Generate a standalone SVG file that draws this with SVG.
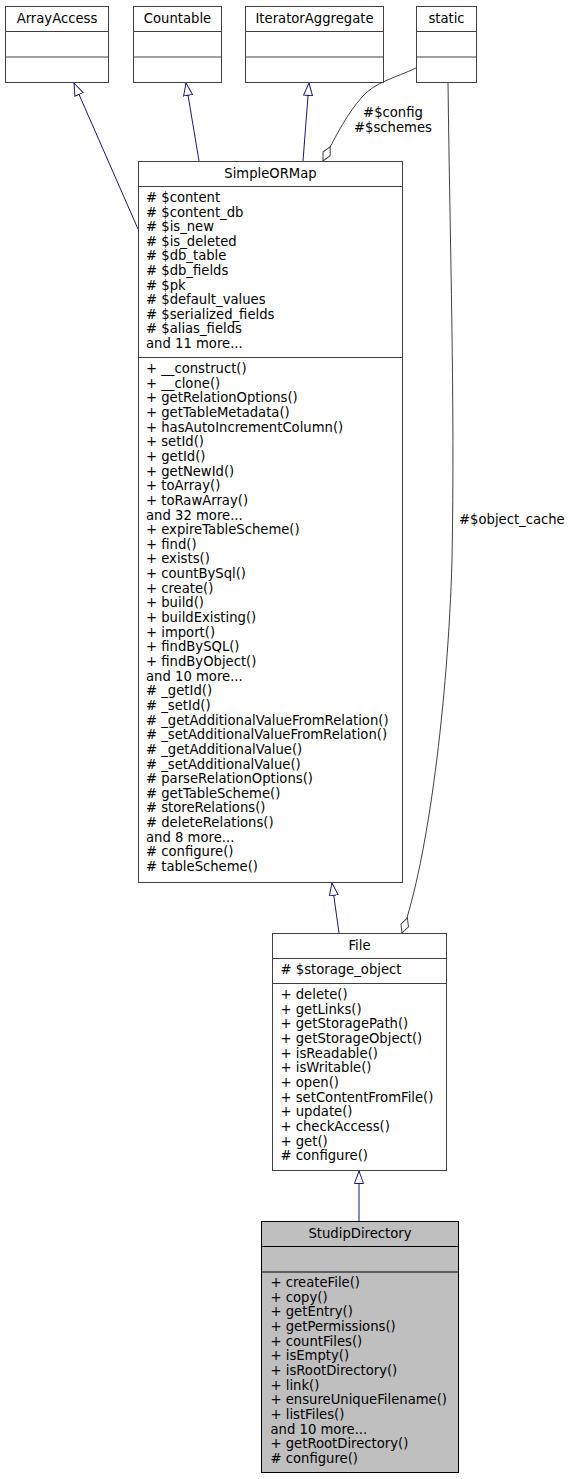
<svg xmlns="http://www.w3.org/2000/svg" width="569" height="1479" viewBox="0 0 569 1479">
<style>
  .box { fill: #ffffff; stroke: #404040; stroke-width: 1; }
  .focus { fill: #bfbfbf; stroke: #000000; stroke-width: 1; }
  .sep { stroke: #404040; stroke-width: 1; }
  .focus-sep { stroke: #000000; stroke-width: 1; }
  text { font-family: "DejaVu Sans", "Liberation Sans", sans-serif; font-size: 13.2px; fill: #000000; }
  .title { text-anchor: middle; }
  .inh { fill: none; stroke: #191970; stroke-width: 1; marker-end: url(#tri); }
  .use { fill: none; stroke: #404040; stroke-width: 1; marker-end: url(#dia); }
</style>
<defs>
  <marker id="tri" viewBox="0 0 13 10" refX="13" refY="5" markerWidth="13" markerHeight="10" markerUnits="userSpaceOnUse" orient="auto">
    <path d="M0.5,0.5 L13,5 L0.5,9.5 Z" fill="#ffffff" stroke="#191970" stroke-width="1"/>
  </marker>
  <marker id="dia" viewBox="0 0 17 10" refX="16.5" refY="5" markerWidth="17" markerHeight="10" markerUnits="userSpaceOnUse" orient="auto">
    <path d="M0.5,5 L8.5,1 L16.5,5 L8.5,9 Z" fill="#ffffff" stroke="#404040" stroke-width="1"/>
  </marker>
</defs>
<rect width="569" height="1479" fill="#ffffff"/>

<g id="connectors">
  <path class="inh" d="M138,229 L74,83"/>
  <path class="inh" d="M199,161 L186,83"/>
  <path class="inh" d="M303,161 L309,83"/>
  <path class="inh" d="M339,933 L332,883"/>
  <path class="inh" d="M359,1221 L359,1171"/>
  <path class="use" d="M416,68 C395,78 375,82 362,97 C348,113 337,133 323,161"/>
  <path class="use" d="M448,82 C450,250 455,400 452,560 C448,700 428,860 402,933"/>
  <text x="393" y="117" text-anchor="middle">#$config</text>
  <text x="393" y="132" text-anchor="middle">#$schemes</text>
  <text x="459" y="524">#$object_cache</text>
</g>

<g id="ArrayAccess">
  <rect class="box" x="5.5" y="6.5" width="103" height="76"/>
  <line class="sep" x1="5.5" y1="31.5" x2="108.5" y2="31.5"/>
  <line class="sep" x1="5.5" y1="57" x2="108.5" y2="57"/>
  <text class="title" x="57" y="22.5">ArrayAccess</text>
</g>

<g id="Countable">
  <rect class="box" x="133.5" y="6.5" width="88" height="76"/>
  <line class="sep" x1="133.5" y1="31.5" x2="221.5" y2="31.5"/>
  <line class="sep" x1="133.5" y1="57" x2="221.5" y2="57"/>
  <text class="title" x="177.5" y="22.5">Countable</text>
</g>

<g id="IteratorAggregate">
  <rect class="box" x="245.5" y="6.5" width="138" height="76"/>
  <line class="sep" x1="245.5" y1="31.5" x2="383.5" y2="31.5"/>
  <line class="sep" x1="245.5" y1="57" x2="383.5" y2="57"/>
  <text class="title" x="314.5" y="22.5">IteratorAggregate</text>
</g>

<g id="static">
  <rect class="box" x="416.5" y="6.5" width="60" height="76"/>
  <line class="sep" x1="416.5" y1="31.5" x2="476.5" y2="31.5"/>
  <line class="sep" x1="416.5" y1="57" x2="476.5" y2="57"/>
  <text class="title" x="446.5" y="22.5">static</text>
</g>

<g id="SimpleORMap">
  <rect class="box" x="138.5" y="161.5" width="264" height="721"/>
  <line class="sep" x1="138.5" y1="186.5" x2="402.5" y2="186.5"/>
  <line class="sep" x1="138.5" y1="357.5" x2="402.5" y2="357.5"/>
  <text class="title" x="270.5" y="178">SimpleORMap</text>
  <text x="146">
    <tspan x="146" y="202"># $content</tspan>
    <tspan x="146" dy="14.6"># $content_db</tspan>
    <tspan x="146" dy="14.6"># $is_new</tspan>
    <tspan x="146" dy="14.6"># $is_deleted</tspan>
    <tspan x="146" dy="14.6"># $db_table</tspan>
    <tspan x="146" dy="14.6"># $db_fields</tspan>
    <tspan x="146" dy="14.6"># $pk</tspan>
    <tspan x="146" dy="14.6"># $default_values</tspan>
    <tspan x="146" dy="14.6"># $serialized_fields</tspan>
    <tspan x="146" dy="14.6"># $alias_fields</tspan>
    <tspan x="146" dy="14.6">and 11 more...</tspan>
  </text>
  <text x="146">
    <tspan x="146" y="373">+ __construct()</tspan>
    <tspan x="146" dy="14.65">+ __clone()</tspan>
    <tspan x="146" dy="14.65">+ getRelationOptions()</tspan>
    <tspan x="146" dy="14.65">+ getTableMetadata()</tspan>
    <tspan x="146" dy="14.65">+ hasAutoIncrementColumn()</tspan>
    <tspan x="146" dy="14.65">+ setId()</tspan>
    <tspan x="146" dy="14.65">+ getId()</tspan>
    <tspan x="146" dy="14.65">+ getNewId()</tspan>
    <tspan x="146" dy="14.65">+ toArray()</tspan>
    <tspan x="146" dy="14.65">+ toRawArray()</tspan>
    <tspan x="146" dy="14.65">and 32 more...</tspan>
    <tspan x="146" dy="14.65">+ expireTableScheme()</tspan>
    <tspan x="146" dy="14.65">+ find()</tspan>
    <tspan x="146" dy="14.65">+ exists()</tspan>
    <tspan x="146" dy="14.65">+ countBySql()</tspan>
    <tspan x="146" dy="14.65">+ create()</tspan>
    <tspan x="146" dy="14.65">+ build()</tspan>
    <tspan x="146" dy="14.65">+ buildExisting()</tspan>
    <tspan x="146" dy="14.65">+ import()</tspan>
    <tspan x="146" dy="14.65">+ findBySQL()</tspan>
    <tspan x="146" dy="14.65">+ findByObject()</tspan>
    <tspan x="146" dy="14.65">and 10 more...</tspan>
    <tspan x="146" dy="14.65"># _getId()</tspan>
    <tspan x="146" dy="14.65"># _setId()</tspan>
    <tspan x="146" dy="14.65"># _getAdditionalValueFromRelation()</tspan>
    <tspan x="146" dy="14.65"># _setAdditionalValueFromRelation()</tspan>
    <tspan x="146" dy="14.65"># _getAdditionalValue()</tspan>
    <tspan x="146" dy="14.65"># _setAdditionalValue()</tspan>
    <tspan x="146" dy="14.65"># parseRelationOptions()</tspan>
    <tspan x="146" dy="14.65"># getTableScheme()</tspan>
    <tspan x="146" dy="14.65"># storeRelations()</tspan>
    <tspan x="146" dy="14.65"># deleteRelations()</tspan>
    <tspan x="146" dy="14.65">and 8 more...</tspan>
    <tspan x="146" dy="14.65"># configure()</tspan>
    <tspan x="146" dy="14.65"># tableScheme()</tspan>
  </text>
</g>

<g id="File">
  <rect class="box" x="272.5" y="933.5" width="174" height="237"/>
  <line class="sep" x1="272.5" y1="958.5" x2="446.5" y2="958.5"/>
  <line class="sep" x1="272.5" y1="983.5" x2="446.5" y2="983.5"/>
  <text class="title" x="359.5" y="950">File</text>
  <text x="280.5" y="974"># $storage_object</text>
  <text x="280.5">
    <tspan x="280.5" y="999">+ delete()</tspan>
    <tspan x="280.5" dy="14.65">+ getLinks()</tspan>
    <tspan x="280.5" dy="14.65">+ getStoragePath()</tspan>
    <tspan x="280.5" dy="14.65">+ getStorageObject()</tspan>
    <tspan x="280.5" dy="14.65">+ isReadable()</tspan>
    <tspan x="280.5" dy="14.65">+ isWritable()</tspan>
    <tspan x="280.5" dy="14.65">+ open()</tspan>
    <tspan x="280.5" dy="14.65">+ setContentFromFile()</tspan>
    <tspan x="280.5" dy="14.65">+ update()</tspan>
    <tspan x="280.5" dy="14.65">+ checkAccess()</tspan>
    <tspan x="280.5" dy="14.65">+ get()</tspan>
    <tspan x="280.5" dy="14.65"># configure()</tspan>
  </text>
</g>

<g id="StudipDirectory">
  <rect class="focus" x="261.5" y="1221.5" width="197" height="251"/>
  <line class="focus-sep" x1="261.5" y1="1246.5" x2="458.5" y2="1246.5"/>
  <line class="focus-sep" x1="261.5" y1="1272" x2="458.5" y2="1272"/>
  <text class="title" x="360" y="1238">StudipDirectory</text>
  <text x="270.5">
    <tspan x="270.5" y="1287">+ createFile()</tspan>
    <tspan x="270.5" dy="14.65">+ copy()</tspan>
    <tspan x="270.5" dy="14.65">+ getEntry()</tspan>
    <tspan x="270.5" dy="14.65">+ getPermissions()</tspan>
    <tspan x="270.5" dy="14.65">+ countFiles()</tspan>
    <tspan x="270.5" dy="14.65">+ isEmpty()</tspan>
    <tspan x="270.5" dy="14.65">+ isRootDirectory()</tspan>
    <tspan x="270.5" dy="14.65">+ link()</tspan>
    <tspan x="270.5" dy="14.65">+ ensureUniqueFilename()</tspan>
    <tspan x="270.5" dy="14.65">+ listFiles()</tspan>
    <tspan x="270.5" dy="14.65">and 10 more...</tspan>
    <tspan x="270.5" dy="14.65">+ getRootDirectory()</tspan>
    <tspan x="270.5" dy="14.65"># configure()</tspan>
  </text>
</g>
</svg>
